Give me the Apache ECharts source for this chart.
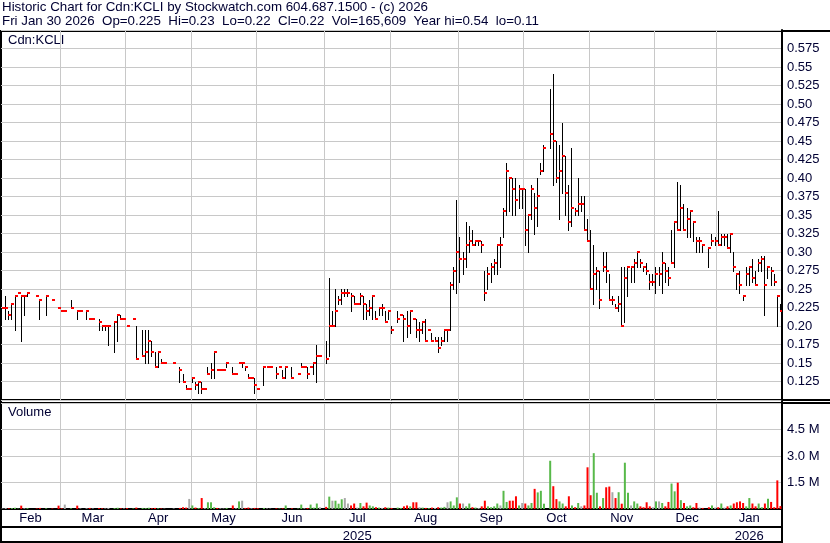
<!DOCTYPE html>
<html><head><meta charset="utf-8">
<script src="https://cdn.jsdelivr.net/npm/echarts@6.0.0/dist/echarts.min.js"></script>
<style>html,body{margin:0;padding:0;background:#fff}#c{width:830px;height:543px}</style>
</head><body><div id="c"></div>
<script>
// ---- categories: trading-day slots per month ----
const months = ['Feb','Mar','Apr','May','Jun','Jul','Aug','Sep','Oct','Nov','Dec','Jan'];
const monthYears = [2025,2025,2025,2025,2025,2025,2025,2025,2025,2025,2025,2026];
const monthSlots = [19,21,21,21,22,21,22,21,21,21,20,21];

// ---- price axis ticks ----
const priceMin = 0.10, priceMax = 0.60, priceStep = 0.025;
const volMax = 6000000, volStep = 1500000;

// ---- daily high / low / close (null = no trade) ----
const high = [
.225,.24,.22,.23,.24,.245,.24,.24,.245,null,
null,.24,.235,null,.24,null,.235,null,.225,.22,
.22,null,.235,null,.22,.22,null,.22,.21,.21,
null,.21,.2,.2,.2,null,.205,.215,.215,.21,
.2,null,.21,.2,null,.195,.195,.195,.18,.165,
.165,.155,.15,null,null,.15,null,.145,.135,.12,
.115,.13,.125,.125,.125,.115,.145,.15,.165,.14,
.14,.14,.15,null,.145,.135,.15,.15,.145,.135,
.13,.13,.115,null,.145,.145,.145,null,.145,.145,
.14,.145,null,.145,null,.135,.15,.145,.145,.145,
.15,.175,.16,null,.18,.265,.22,.25,.24,.25,
.25,.25,.245,.24,.23,.245,.24,.23,.235,.24,
.22,.225,.23,.22,.22,.2,null,.22,.215,.215,
.22,.22,.21,.21,.205,.205,.21,.195,.19,.185,
.185,.185,.195,.195,.26,.28,.37,.32,.30,.34,
.335,.33,.315,.315,.315,.275,.28,.285,.29,.31,
.32,.36,.42,.40,.40,.40,.39,.385,.385,.35,
.39,.38,.40,.42,.445,null,.52,.54,.45,.445,
.475,.43,.39,.44,.36,.40,.375,.375,.345,.33,
.31,.28,.275,.30,.30,.27,.24,.23,.24,.28,
.28,.28,.28,.29,.30,.29,.28,.285,.27,.27,
.28,.28,.30,.285,.28,.33,.34,.395,.39,.365,
.36,.355,.34,.32,.32,.31,null,.305,.325,.32,
.355,.325,.325,.325,.325,.30,.27,.275,.24,.28,
.28,.29,.275,.29,.295,.295,.28,.28,.27,.24,.23];
const low = [
.225,.21,.21,.21,.195,.245,.18,.215,.24,null,
null,.24,.21,null,.215,null,.235,null,.225,.22,
.22,null,.225,null,.21,.22,null,.21,.21,.21,
null,.195,.195,.195,.175,null,.165,.18,.21,.21,
.2,null,.21,.155,null,.16,.15,.15,.16,.145,
.145,.15,.15,null,null,.15,null,.125,.125,.115,
.115,.125,.115,.11,.11,.115,.135,.13,.13,.14,
.14,.14,.145,null,.135,.135,.15,.145,.14,.13,
.13,.11,.115,null,.12,.145,.145,null,.13,.145,
.13,.13,null,.13,null,.135,.145,.145,.13,.145,
.135,.125,.16,null,.15,.16,.2,.2,.23,.23,
.24,.24,.22,.23,.23,.23,.21,.21,.215,.21,
.21,.215,.215,.205,.21,.19,null,.205,.215,.18,
.185,.19,.21,.185,.18,.19,.18,.195,.18,.18,
.165,.175,.18,.18,.195,.25,.245,.26,.27,.28,
.30,.31,.31,.31,.30,.235,.25,.26,.27,.27,
.28,.32,.35,.355,.35,.35,.36,.36,.31,.30,
.345,.325,.335,.405,.41,null,.44,.39,.395,.345,
.38,.35,.33,.335,.35,.35,.355,.33,.315,.25,
.23,.25,.225,.275,.26,.235,.23,.225,.22,.20,
.205,.24,.26,.26,.28,.28,.275,.27,.25,.255,
.245,.255,.245,.26,.255,.285,.28,.33,.33,.33,
.32,.32,.315,.30,.30,.30,null,.28,.31,.31,
.31,.31,.31,.305,.30,.275,.25,.245,.235,.255,
.255,.26,.255,.275,.275,.215,.265,.255,.255,.20,.22];
const close = [
.225,.225,.215,.23,.24,.245,.24,.24,.245,null,
null,.24,.235,null,.24,null,.235,null,.225,.22,
.22,null,.225,null,.22,.22,null,.22,.21,.21,
null,.205,.2,.2,.2,null,.205,.215,.21,.21,
.2,null,.21,.155,null,.16,.165,.18,.165,.145,
.165,.15,.15,null,null,.15,null,.14,.125,.115,
.115,.13,.12,.125,.115,.115,.135,.14,.165,.14,
.14,.14,.15,null,.135,.135,.15,.15,.145,.13,
.13,.12,.115,null,.145,.145,.145,null,.135,.145,
.13,.145,null,.13,null,.135,.145,.145,.135,.145,
.15,.16,.16,null,.155,.2,.2,.22,.235,.245,
.245,.245,.24,.23,.23,.24,.23,.22,.225,.24,
.21,.225,.225,.205,.22,.195,null,.21,.215,.21,
.2,.22,.21,.195,.195,.205,.18,.195,.18,.18,
.17,.18,.195,.195,.255,.275,.30,.29,.29,.31,
.315,.31,.315,.315,.31,.245,.27,.28,.285,.31,
.31,.355,.41,.40,.385,.37,.385,.385,.33,.35,
.385,.36,.375,.41,.44,null,.46,.45,.40,.41,
.43,.38,.34,.36,.355,.365,.365,.33,.315,.25,
.27,.275,.235,.28,.275,.235,.235,.225,.23,.20,
.265,.28,.28,.285,.30,.285,.28,.275,.26,.26,
.27,.27,.285,.275,.265,.285,.34,.33,.36,.33,
.345,.355,.34,.315,.315,.31,null,.305,.315,.315,
.31,.32,.32,.305,.325,.28,.27,.255,.24,.27,
.28,.265,.255,.285,.29,.255,.28,.275,.26,.24,.22];
// ---- daily volume, thousands of shares ----
const volumeK = [
30,60,40,50,70,20,190,40,50,0,
0,30,60,0,40,0,30,0,190,40,
250,0,40,0,190,30,0,40,60,30,
0,50,40,30,60,0,50,70,40,30,
50,0,30,80,0,60,50,70,40,60,
40,30,20,0,0,30,0,60,100,80,
570,200,80,60,620,50,380,380,100,60,
40,30,60,0,200,40,430,470,60,80,
40,60,50,0,60,30,20,0,40,30,
40,200,0,40,0,30,250,40,60,250,
80,310,100,0,120,700,470,470,300,550,
620,310,200,310,80,340,150,360,200,150,
100,80,60,100,80,60,0,80,60,150,
200,150,380,380,100,80,60,50,80,60,
100,80,120,380,430,200,660,310,310,150,
310,100,80,60,150,470,150,100,150,310,
200,1030,400,470,470,720,200,340,310,200,
340,1140,940,1030,300,0,2730,1290,560,430,
310,150,720,200,100,340,150,200,2360,780,
3160,920,150,620,1230,1270,950,620,950,300,
2620,920,200,430,310,150,100,380,150,100,
430,430,340,150,400,1440,1000,1490,500,340,
150,200,100,340,80,60,0,100,200,80,
100,310,80,150,200,310,380,430,340,150,
620,310,150,310,100,310,580,400,100,1620,166];

const title1 = 'Historic Chart for Cdn:KCLI by Stockwatch.com 604.687.1500 - (c) 2026';
const title2 = 'Fri Jan 30 2026  Op=0.225  Hi=0.23  Lo=0.22  Cl=0.22  Vol=165,609  Year hi=0.54  lo=0.11';

// ---- build categories ----
const cats = [], monthStart = {}, monthMid = {}, yearStart = {}, yearMid = {};
const yearRange = {};
months.forEach((m, mi) => {
  const n = monthSlots[mi], y = monthYears[mi];
  for (let k = 0; k < n; k++) {
    const idx = cats.length;
    if (k === 0) monthStart[idx] = true;
    if (k === Math.floor(n / 2)) monthMid[idx] = true;
    if (!yearRange[y]) yearRange[y] = [idx, idx];
    yearRange[y][1] = idx;
    cats.push(m + '|' + y + '|' + (k + 1));
  }
});
Object.keys(yearRange).forEach(y => {
  const r = yearRange[y];
  if (r[0] > 0) yearStart[r[0]] = true;
  yearMid[Math.floor((r[0] + r[1]) / 2)] = true;
});
const N = cats.length;
[high, low, close, volumeK].forEach((a, j) => { if (a.length !== N) throw new Error('len mismatch ' + j + ': ' + a.length + ' vs ' + N); });

const hlc = [];
for (let i = 0; i < N; i++) if (close[i] != null) hlc.push([i, high[i], low[i], close[i]]);

const GREEN = '#58b94a', RED = '#ff0000', GRAY = '#a8a8a8';
let prev = null;
const volData = volumeK.map((v, i) => {
  let col = GRAY;
  if (close[i] != null) {
    if (prev != null) col = close[i] > prev ? GREEN : (close[i] < prev ? RED : GRAY);
    prev = close[i];
  }
  return { value: v ? v * 1000 : null, itemStyle: { color: col } };
});

const FONT = '"Liberation Sans", Arial, sans-serif';
const TXT = '#000033';
const GRID = '#c8c8c8';

function fmtPrice(v) {
  const r = Math.round(v * 1000);
  return r % 10 === 5 ? (r / 1000).toFixed(3) : (r / 1000).toFixed(2);
}

const L = 1, W = 781;
const chart = echarts.init(document.getElementById('c'), null, { renderer: 'canvas' });
const baseX = {
  type: 'category', data: cats, boundaryGap: true,
  axisLine: { show: false }, axisTick: { show: false }, axisLabel: { show: false },
  splitLine: { show: false }
};
chart.setOption({
  animation: false,
  backgroundColor: '#fff',
  grid: [
    { left: L, top: 30, width: W, height: 370 },
    { left: L, top: 403, width: W, height: 106.5 }
  ],
  xAxis: [
    Object.assign({}, baseX, { gridIndex: 0,
      splitLine: { show: true, interval: (i) => !!monthStart[i] && i > 0, lineStyle: { color: GRID, width: 1 } } }),
    Object.assign({}, baseX, { gridIndex: 1, position: 'bottom',
      axisLine: { show: true, lineStyle: { color: '#000', width: 2 } },
      axisTick: { show: true, interval: (i) => !!yearStart[i], length: 18, lineStyle: { color: '#000', width: 2 } },
      axisLabel: { show: true, interval: (i) => !!monthMid[i], formatter: (v) => v.split('|')[0],
        color: TXT, fontSize: 13, fontFamily: FONT, margin: 3 },
      splitLine: { show: true, interval: (i) => !!monthStart[i] && i > 0, lineStyle: { color: GRID, width: 1 } } }),
    Object.assign({}, baseX, { gridIndex: 1, position: 'bottom', offset: 18,
      axisLine: { show: true, lineStyle: { color: '#000', width: 2 } },
      axisTick: { show: true, interval: (i) => !!yearStart[i], length: 15, lineStyle: { color: '#000', width: 2 } },
      axisLabel: { show: true, interval: (i) => !!yearMid[i], formatter: (v) => v.split('|')[1],
        color: TXT, fontSize: 13, fontFamily: FONT, margin: 3 } }),
    Object.assign({}, baseX, { gridIndex: 1, position: 'bottom', offset: 32.5,
      axisLine: { show: true, lineStyle: { color: '#000', width: 2 } } })
  ],
  yAxis: [
    { type: 'value', gridIndex: 0, position: 'right', min: priceMin, max: priceMax, interval: priceStep,
      axisLine: { show: true, lineStyle: { color: '#000', width: 2 } }, axisTick: { show: false },
      axisLabel: { color: TXT, fontSize: 13, fontFamily: FONT, margin: 5, showMinLabel: false, showMaxLabel: false,
        formatter: fmtPrice },
      splitLine: { show: true, lineStyle: { color: GRID, width: 1 } } },
    { type: 'value', gridIndex: 1, position: 'right', min: 0, max: volMax, interval: volStep,
      axisLine: { show: true, lineStyle: { color: '#000', width: 2 } }, axisTick: { show: false },
      axisLabel: { color: TXT, fontSize: 13, fontFamily: FONT, margin: 5, showMinLabel: false, showMaxLabel: false,
        formatter: (v) => (v / 1e6).toFixed(1) + ' M' },
      splitLine: { show: true, lineStyle: { color: GRID, width: 1 } } }
  ],
  series: [
    { type: 'custom', xAxisIndex: 0, yAxisIndex: 0, silent: true, clip: true,
      encode: { x: 0, y: [1, 2, 3] },
      data: hlc,
      renderItem: (params, api) => {
        const i = api.value(0);
        const ph = api.coord([i, api.value(1)]);
        const pl = api.coord([i, api.value(2)]);
        const pc = api.coord([i, api.value(3)]);
        const x = Math.floor(ph[0]);
        const yT = Math.round(ph[1]), yB = Math.round(pl[1]);
        const ch = [];
        if (yB > yT) ch.push({ type: 'rect', shape: { x: x, y: yT, width: 1, height: yB - yT + 1 }, style: { fill: '#000' } });
        ch.push({ type: 'rect', shape: { x: x, y: Math.round(pc[1]) - 1, width: 3, height: 2 }, style: { fill: RED } });
        return { type: 'group', children: ch };
      } },
    { type: 'bar', xAxisIndex: 1, yAxisIndex: 1, silent: true, barWidth: 2, data: volData }
  ],
  graphic: [
    { type: 'text', left: 2, top: 1, style: { text: title1, font: '13.33px ' + FONT, fill: TXT } },
    { type: 'text', left: 2, top: 15, style: { text: title2, font: '13.33px ' + FONT, fill: TXT } },
    { type: 'text', left: 8, top: 34, style: { text: 'Cdn:KCLI', font: '13px ' + FONT, fill: TXT } },
    { type: 'text', left: 8, top: 406, style: { text: 'Volume', font: '13px ' + FONT, fill: TXT } },
    { type: 'line', shape: { x1: 0, y1: 31, x2: 830, y2: 31 }, style: { stroke: '#000', lineWidth: 2 } },
    { type: 'line', shape: { x1: 0, y1: 400, x2: 830, y2: 400 }, style: { stroke: '#000', lineWidth: 2 } },
    { type: 'line', shape: { x1: 0, y1: 403, x2: 830, y2: 403 }, style: { stroke: '#000', lineWidth: 2 } },
    { type: 'line', shape: { x1: 1, y1: 30, x2: 1, y2: 543 }, style: { stroke: '#000', lineWidth: 2 } },
    { type: 'line', shape: { x1: L + W, y1: 30, x2: L + W, y2: 543 }, style: { stroke: '#000', lineWidth: 2 } }
  ]
});
</script>
</body></html>
